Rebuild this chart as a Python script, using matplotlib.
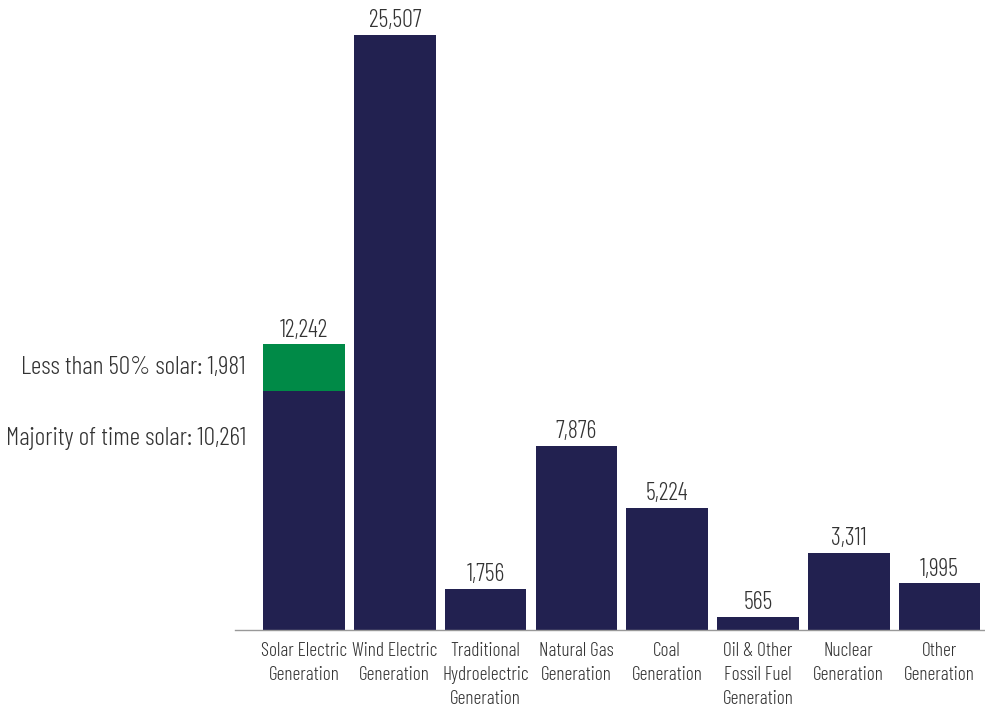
import matplotlib
matplotlib.use("Agg")
import matplotlib.pyplot as plt

categories = ["Solar Electric\nGeneration", "Wind Electric\nGeneration",
              "Traditional\nHydroelectric\nGeneration", "Natural Gas\nGeneration",
              "Coal\nGeneration", "Oil & Other\nFossil Fuel\nGeneration",
              "Nuclear\nGeneration", "Other\nGeneration"]
values = [10261, 25507, 1756, 7876, 5224, 565, 3311, 1995]
solar_minor = 1981  # less than 50% solar, stacked on top of the solar bar
totals = [12242, 25507, 1756, 7876, 5224, 565, 3311, 1995]

navy = "#222150"
green = "#008A47"
txt = "#333333"

plt.rcParams['font.family'] = ['Barlow Condensed', 'DejaVu Sans']
plt.rcParams['font.weight'] = 300

fig = plt.figure(figsize=(9.85, 7.08), dpi=100)
ax = fig.add_axes([235 / 985, 78 / 708, 750 / 985, 595 / 708])

x = list(range(len(categories)))
ax.bar(x, values, width=0.9, color=navy)
ax.bar([0], [solar_minor], bottom=[values[0]], width=0.9, color=green)

for xi, t in zip(x, totals):
    ax.annotate(f"{t:,}", (xi, t), xytext=(0, 2), textcoords="offset points",
                ha="center", va="bottom", fontsize=17.5, color=txt)

ax.text(-0.64, values[0] + solar_minor / 2, "Less than 50% solar: 1,981",
        ha="right", va="center", fontsize=18.5, color=txt)
ax.text(-0.64, 8230, "Majority of time solar: 10,261",
        ha="right", va="center", fontsize=18.5, color=txt)

ax.set_xlim(-0.76, 7.5)
ax.set_ylim(0, 25507)
ax.set_xticks(x)
ax.set_xticklabels(categories, fontsize=14, color=txt, linespacing=1.4, va="top")
ax.tick_params(axis="x", length=0, pad=9)
ax.set_yticks([])
for s in ["top", "right", "left"]:
    ax.spines[s].set_visible(False)
ax.spines["bottom"].set_color("#999999")
ax.spines["bottom"].set_linewidth(1)

fig.savefig("out.png", dpi=100)
